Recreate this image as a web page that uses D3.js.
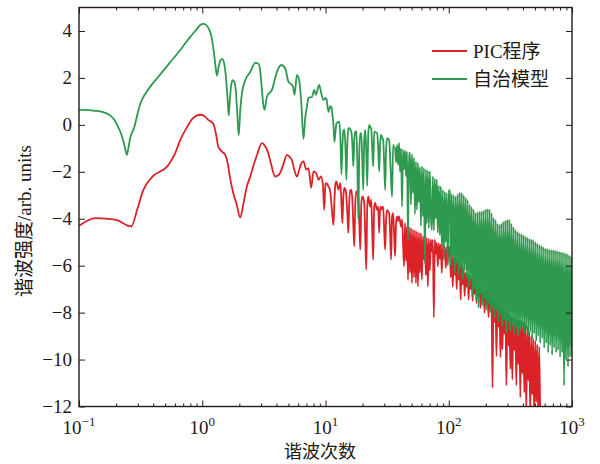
<!DOCTYPE html>
<html>
<head>
<meta charset="utf-8">
<script src="https://cdn.jsdelivr.net/npm/d3@7"></script>
<style>
  body { margin: 0; background: #fff; }
  svg { display: block; }
</style>
</head>
<body>
<svg id="chart" width="600" height="464"></svg>
<script>
// Harmonic spectra: log10 of harmonic intensity against harmonic order.
// Low orders (0.1 … 10) as [order, value] pairs.
const redLow = [
  [0.1, -4.3], [0.1356, -3.97], [0.197, -4.04], [0.2656, -4.33], [0.2971, -3.6],
  [0.3305, -2.8], [0.3909, -2.23], [0.5329, -1.7], [0.604, -1.2], [0.6632, -0.64],
  [0.7516, -0.1], [0.8453, 0.3], [0.9634, 0.43], [1.038, 0.38], [1.119, 0.21],
  [1.228, 0.05], [1.299, -0.45], [1.348, -0.92], [1.453, -1.15], [1.537, -1.28],
  [1.586, -1.49], [1.687, -2.3], [1.784, -2.9], [1.905, -3.4], [2.033, -3.95],
  [2.15, -3.4], [2.304, -2.62], [2.451, -2.2], [2.592, -1.77], [2.793, -1.25],
  [3.049, -0.78], [3.183, -0.85], [3.43, -1.2], [3.628, -1.7], [3.908, -2.2],
  [4.134, -2.15], [4.291, -2.04], [4.538, -1.7], [4.864, -1.28], [5.077, -1.35],
  [5.34, -1.5], [5.573, -1.9], [5.861, -2.2], [6.061, -2.0], [6.233, -1.77],
  [6.631, -1.56], [6.975, -1.91], [7.281, -1.84], [7.656, -2.68], [7.992, -1.98],
  [8.405, -2.06], [8.774, -2.34], [9.177, -2.2], [9.526, -2.55], [9.761, -3.62]
];
const greenLow = [
  [0.1, 0.64], [0.119, 0.63], [0.1356, 0.6], [0.1545, 0.55], [0.1728, 0.45],
  [0.1933, 0.22], [0.2083, -0.1], [0.2203, -0.4], [0.233, -0.85], [0.2451, -1.28],
  [0.2511, -1.0], [0.2607, -0.55], [0.2809, -0.1], [0.2971, 0.42], [0.3142, 0.9],
  [0.3323, 1.18], [0.3548, 1.42], [0.3787, 1.63], [0.4564, 2.15], [0.5502, 2.67], [0.6632, 3.19],
  [0.7994, 3.75], [0.894, 4.05], [0.9634, 4.25], [1.019, 4.3], [1.077, 4.25],
  [1.14, 4.05], [1.183, 3.8], [1.228, 3.3], [1.275, 2.6], [1.316, 2.1],
  [1.361, 2.5], [1.413, 2.77], [1.453, 2.8], [1.508, 2.6], [1.565, 1.9],
  [1.61, 1.0], [1.64, 0.4], [1.671, 1.0], [1.719, 1.7], [1.768, 1.9],
  [1.817, 1.85], [1.869, 1.5], [1.923, 0.5], [1.977, -0.45], [2.033, 0.6],
  [2.099, 1.35], [2.233, 1.9], [2.451, 2.25], [2.691, 2.64], [2.862, 2.6],
  [2.954, 2.3], [3.049, 1.5], [3.124, 0.9], [3.201, 0.64], [3.347, 1.2],
  [3.676, 1.49], [4.036, 2.26], [4.373, 2.55], [4.712, 2.4], [5.012, 1.83],
  [5.34, 1.7], [5.47, 1.6], [5.605, 1.28], [5.861, 2.13], [6.118, 1.9],
  [6.351, 1.0], [6.631, -0.6], [6.845, 0.3], [7.066, 0.77], [7.281, 1.15],
  [7.757, 1.19], [8.098, 1.49], [8.358, 1.28], [8.564, 1.45], [8.889, 1.7],
  [9.228, 1.36], [9.634, 1.06], [9.815, 1.1]
];

// High orders: one value per step of an even log grid starting at order 10.
const denseStart = 10;
const densePerDecade = 124;
const redDense = [
  -2.5, -2.48, -2.55, -2.63, -2.7, -2.91, -3.4, -3.9, -4.26, -3.2,
  -2.5, -2.41, -2.6, -2.77, -2.6, -2.48, -3.3, -4.18, -3.0, -2.69,
  -2.75, -3.05, -3.8, -4.6, -3.2, -2.8, -2.77, -3.19, -4.3, -5.18,
  -3.3, -2.84, -2.9, -3.05, -4.2, -5.32, -3.4, -3.05, -3.1, -3.33,
  -4.8, -6.17, -3.5, -3.05, -3.3, -3.48, -3.19, -4.5, -5.74, -3.5,
  -3.33, -3.5, -3.62, -3.48, -4.6, -3.5, -3.62, -3.5, -3.48, -4.4,
  -5.32, -4.0, -3.62, -3.7, -3.76, -4.6, -5.74, -3.9, -3.76, -4.6,
  -5.6, -4.2, -3.9, -4.1, -3.9, -4.1, -4.33, -4.04, -5.0, -6.03,
  -4.18, -5.8, -4.33, -6.6, -4.35, -6.3, -4.4, -6.74, -4.47, -6.5,
  -4.5, -6.74, -4.54, -6.88, -4.6, -6.31, -4.62, -6.6, -4.75, -5.74,
  -4.78, -6.4, -4.82, -6.88, -4.85, -6.2, -4.89, -5.4, -4.9, -8.2,
  -4.89, -5.5, -5.03, -6.03, -5.05, -5.7, -5.1, -6.31, -5.15, -5.6,
  -5.18, -6.1, -5.2, -5.89, -5.25,
  -5.2, -6.5, -5.4, -6.9, -5.6, -6.4, -5.65, -7.0, -5.7, -6.6,
  -5.74, -7.45, -5.9, -6.8, -6.1, -7.3, -6.3, -6.9, -6.35, -7.45,
  -6.4, -7.0, -6.45, -7.5, -6.55, -7.2, -6.7, -7.6, -6.8, -7.3,
  -6.88, -7.8, -6.95, -7.5, -7.0, -8.0, -7.02, -7.7, -7.1, -8.2,
  -7.12, -7.9, -7.16, -11.2, -7.3, -8.4, -7.45, -9.86, -7.55, -8.6,
  -7.6, -9.9, -7.7, -9.57, -7.8, -8.9, -7.87, -11.1, -7.95, -9.4,
  -8.05, -10.4, -8.16, -10.85, -8.2, -9.6, -8.25, -11.1, -8.3, -10.2,
  -8.3, -11.6, -8.35, -10.6, -8.4, -11.4, -8.44, -12.3, -8.6, -10.9,
  -8.8, -12.4, -9.0, -11.5, -9.1, -12.5, -9.2, -11.8, -9.35, -12.5,
  -9.45, -12.4
];
const greenDense = [
  1.15, 1.1, 0.8, 0.55, 0.7, 0.8, 0.75, 0.4, 0.0, -0.72,
  -0.3, 0.05, 0.1, 0.12, 0.14, -0.6, -2.1, -0.9, -0.25, -0.2,
  -0.9, -2.35, -0.8, -0.15, -0.14, -0.2, -0.3, -0.8, -1.77, -0.6,
  -0.28, -0.29, -1.5, -4.04, -1.2, -0.35, -0.35, -1.5, -2.77, -0.6,
  -0.21, -1.2, -2.6, -0.4, 0.0, -0.1, -0.15, -1.0, -1.77, -0.3,
  -0.3, -0.33, -0.35, -1.0, -1.98, -0.8, -0.43, -0.55, -0.64, -1.6,
  -2.77, -1.0, -0.57, -0.6, -0.64, -1.4, -2.4, -3.06, -0.85, -0.95,
  -1.0, -1.6, -0.85, -1.7, -0.77, -2.0, -1.0, -3.48, -1.06, -1.9,
  -1.1, -2.2, -1.13, -4.89, -1.2,
  -1.2, -3.4, -1.25, -2.9, -1.4, -3.8, -1.56, -3.62, -1.63, -3.3,
  -1.8, -4.3, -1.77, -3.9, -1.85, -5.89, -1.9, -4.2, -1.95, -4.4,
  -1.98, -3.9, -4.47, -2.2, -4.5, -2.3, -4.0, -2.34, -4.6, -2.6,
  -4.7, -2.62, -5.2, -2.77, -5.75, -2.85, -5.0, -2.91, -6.0, -2.77,
  -2.84, -6.0, -2.95, -5.6, -3.0, -6.3, -3.05, -5.9, -2.95, -6.4,
  -2.88, -6.1, -2.9, -6.6, -3.0, -6.2, -3.1, -6.5, -3.2, -6.9,
  -3.4, -6.6, -3.5, -7.3, -3.6, -7.0, -3.75, -7.5, -3.72, -7.8,
  -3.7, -7.2, -3.68, -7.7, -3.65, -7.4, -3.6, -7.9, -3.58, -7.6,
  -3.6, -8.0, -3.75, -7.7, -3.95, -8.2, -4.05, -7.9, -4.2, -8.4,
  -4.26, -8.1, -4.2, -8.6, -4.12, -8.3, -4.08, -8.87, -4.05, -8.4,
  -4.04, -8.8, -4.2, -8.5, -4.35, -8.9, -4.45, -8.6, -4.55, -9.0,
  -4.61, -8.7, -4.65, -8.6, -4.7, -8.9, -4.75, -8.7, -4.8, -9.0,
  -4.85, -8.8, -4.88, -9.1, -4.9, -8.9, -4.98, -9.2, -5.05, -9.0,
  -5.11, -9.3, -5.15, -9.1, -5.2, -9.5, -5.25, -9.3, -5.27, -9.7,
  -5.3, -9.4, -5.32, -9.8, -5.33, -9.5, -5.35, -9.7, -5.37, -9.6,
  -5.39, -9.9, -5.42, -9.7, -5.44, -11.1, -5.46, -10.0, -5.5, -10.3,
  -5.55, -9.9, -5.6, -9.8
];

const seriesNames = ["PIC程序", "自治模型"];
const seriesColors = ["#dc2229", "#2e9a4f"];
const yTickValues = [-12, -10, -8, -6, -4, -2, 0, 2, 4];
const xDecades = [0.1, 1, 10, 100, 1000];
const xExponents = ["−1", "0", "1", "2", "3"];
const xTitle = "谐波次数";
const yTitle = "谐波强度/arb. units";

// ---- assemble series ----
function withDense(low, dense) {
  return low.concat(dense.map((v, i) => [denseStart * Math.pow(10, i / densePerDecade), v]));
}
const series = [withDense(redLow, redDense), withDense(greenLow, greenDense)];

// ---- layout ----
const L = 79, R = 572, T = 7.5, B = 406.5;
const svg = d3.select("#chart");
const x = d3.scaleLog().domain([0.1, 1000]).range([L, R]);
const y = d3.scaleLinear().domain([-12, 5]).range([B, T]);

const latin = "'Liberation Serif', 'Times New Roman', serif";
const cjk = "'Liberation Serif', 'Noto Sans CJK SC', sans-serif";
const ink = "#231916";

svg.append("defs").append("clipPath").attr("id", "plotClip")
  .append("rect").attr("x", L).attr("y", T).attr("width", R - L).attr("height", B - T);

// ---- data lines ----
const line = d3.line()
  .x(d => x(d[0]))
  .y(d => y(d[1]))
  .curve(d3.curveMonotoneX);
const plot = svg.append("g").attr("clip-path", "url(#plotClip)");
series.forEach((s, k) => {
  plot.append("path")
    .datum(s)
    .attr("d", line)
    .attr("fill", "none")
    .attr("stroke", seriesColors[k])
    .attr("stroke-width", 1.8)
    .attr("stroke-linejoin", "round");
});

// ---- axes (ticks point inward on all four sides) ----
const minorX = [];
[0.1, 1, 10, 100].forEach(d => { for (let m = 2; m <= 9; m++) minorX.push(m * d); });

function tickAxis(axisFn, scale, values, size, translate) {
  const g = svg.append("g")
    .attr("transform", translate)
    .call(axisFn(scale).tickValues(values).tickSize(size).tickFormat(""));
  g.select(".domain").remove();
  g.selectAll(".tick line").attr("stroke", ink).attr("stroke-width", 1);
  return g;
}
tickAxis(d3.axisBottom, x, xDecades, -6, `translate(0,${B})`);
tickAxis(d3.axisBottom, x, minorX, -3, `translate(0,${B})`);
tickAxis(d3.axisTop, x, xDecades, -6, `translate(0,${T})`);
tickAxis(d3.axisTop, x, minorX, -3, `translate(0,${T})`);
tickAxis(d3.axisLeft, y, yTickValues, -6, `translate(${L},0)`);
tickAxis(d3.axisRight, y, yTickValues, -6, `translate(${R},0)`);

svg.append("rect")
  .attr("x", L).attr("y", T).attr("width", R - L).attr("height", B - T)
  .attr("fill", "none").attr("stroke", ink).attr("stroke-width", 1.4);

// y tick labels
svg.append("g").selectAll("text")
  .data(yTickValues)
  .join("text")
  .attr("x", L - 7)
  .attr("y", d => y(d))
  .attr("dy", "0.34em")
  .attr("text-anchor", "end")
  .attr("font-family", latin)
  .attr("font-size", 19)
  .attr("fill", ink)
  .text(d => d3.format("d")(d));

// x tick labels: 10 with superscript exponent
const xl = svg.append("g").selectAll("text")
  .data(xDecades)
  .join("text")
  .attr("x", d => x(d))
  .attr("y", B + 27)
  .attr("text-anchor", "middle")
  .attr("font-family", latin)
  .attr("font-size", 19)
  .attr("fill", ink);
xl.append("tspan").text("10");
xl.append("tspan").attr("dy", -8).attr("font-size", 13).text((d, i) => xExponents[i]);

// axis titles
svg.append("text")
  .attr("x", 320).attr("y", 458)
  .attr("text-anchor", "middle")
  .attr("font-family", cjk).attr("font-size", 18).attr("fill", ink)
  .text(xTitle);
svg.append("text")
  .attr("transform", "translate(31,221) rotate(-90)")
  .attr("text-anchor", "middle")
  .attr("font-family", cjk).attr("font-size", 19).attr("fill", ink)
  .text(yTitle);

// ---- legend ----
const legend = svg.append("g");
seriesNames.forEach((name, k) => {
  const ly = 51 + k * 28;
  legend.append("line")
    .attr("x1", 432).attr("x2", 467).attr("y1", ly).attr("y2", ly)
    .attr("stroke", seriesColors[k]).attr("stroke-width", 2);
  legend.append("text")
    .attr("x", 473).attr("y", ly + 6.5)
    .attr("font-family", cjk).attr("font-size", 19).attr("fill", ink)
    .text(name);
});
</script>
</body>
</html>
